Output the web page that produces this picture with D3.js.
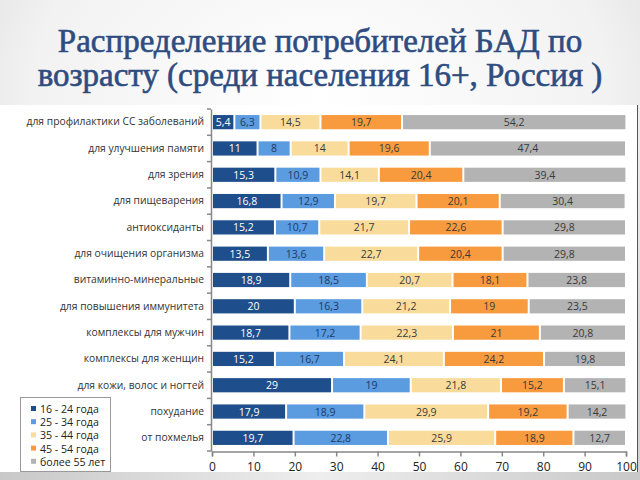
<!DOCTYPE html>
<html>
<head>
<meta charset="utf-8">
<script src="https://cdn.jsdelivr.net/npm/d3@7"></script>
<style>
  body { margin: 0; padding: 0; background: #fff; }
  svg { display: block; }
</style>
</head>
<body>
<script>
// categories, top to bottom
var categories = [
  "для профилактики СС заболеваний",
  "для улучшения памяти",
  "для зрения",
  "для пищеварения",
  "антиоксиданты",
  "для очищения организма",
  "витаминно-минеральные",
  "для повышения иммунитета",
  "комплексы для мужчин",
  "комплексы для женщин",
  "для кожи, волос и ногтей",
  "похудание",
  "от похмелья"
];

var seriesNames = ["16 - 24 года", "25 - 34 года", "35 - 44 года", "45 - 54 года", "более 55 лет"];

var age16_24 = [5.4, 11, 15.3, 16.8, 15.2, 13.5, 18.9, 20, 18.7, 15.2, 29, 17.9, 19.7];
var age25_34 = [6.3, 8, 10.9, 12.9, 10.7, 13.6, 18.5, 16.3, 17.2, 16.7, 19, 18.9, 22.8];
var age35_44 = [14.5, 14, 14.1, 19.7, 21.7, 22.7, 20.7, 21.2, 22.3, 24.1, 21.8, 29.9, 25.9];
var age45_54 = [19.7, 19.6, 20.4, 20.1, 22.6, 20.4, 18.1, 19, 21, 24.2, 15.2, 19.2, 18.9];
var age55up  = [54.2, 47.4, 39.4, 30.4, 29.8, 29.8, 23.8, 23.5, 20.8, 19.8, 15.1, 14.2, 12.7];

var xTicks = [0, 10, 20, 30, 40, 50, 60, 70, 80, 90, 100];

var colors = ["#1f4e8c", "#5b9be0", "#f9dc9c", "#f89b3e", "#b3b3b3"];
var textColors = ["#ffffff", "#1f3a66", "#3a3a3a", "#3a3a3a", "#3a3a3a"];

var width = 640, height = 480;
var svg = d3.select("body").append("svg").attr("width", width).attr("height", height);

// background: gray gradient frame, white panel
var defs = svg.append("defs");
var g1 = defs.append("radialGradient").attr("id", "bg").attr("cx", "50%").attr("cy", "20%").attr("r", "75%");
g1.append("stop").attr("offset", "0%").attr("stop-color", "#ffffff");
g1.append("stop").attr("offset", "60%").attr("stop-color", "#f2f2f2");
g1.append("stop").attr("offset", "100%").attr("stop-color", "#d4d4d4");
svg.append("rect").attr("width", width).attr("height", height).attr("fill", "url(#bg)");

var g2 = defs.append("linearGradient").attr("id", "bot").attr("x1", "0").attr("x2", "1");
g2.append("stop").attr("offset", "0%").attr("stop-color", "#c8c8c8");
g2.append("stop").attr("offset", "50%").attr("stop-color", "#eeeeee");
g2.append("stop").attr("offset", "100%").attr("stop-color", "#c8c8c8");
svg.append("rect").attr("x", 0).attr("y", 472).attr("width", width).attr("height", 8).attr("fill", "url(#bot)");

svg.append("rect").attr("x", 0).attr("y", 105).attr("width", 637).attr("height", 367).attr("fill", "#ffffff");
svg.append("line").attr("x1", 637.5).attr("x2", 637.5).attr("y1", 105).attr("y2", 472)
  .attr("stroke", "#555").attr("stroke-width", 1);

// title
var title = svg.append("text").attr("text-anchor", "middle")
  .style("font-family", "'Liberation Serif', 'DejaVu Serif', serif")
  .style("font-size", "33px").attr("fill", "#2e4c80")
  .attr("stroke", "#2e4c80").attr("stroke-width", 0.6);
title.append("tspan").attr("x", 320).attr("y", 52).text("Распределение потребителей БАД по");
title.append("tspan").attr("x", 320).attr("y", 86).text("возрасту (среди населения 16+, Россия )");

// chart
var margin = {left: 212, right: 14, top: 109, bottom: 29};
var x = d3.scaleLinear().domain([0, 100]).range([margin.left, width - margin.right]);
var y = d3.scaleBand().domain(categories).range([margin.top, height - margin.bottom]).paddingInner(0.46).paddingOuter(0.23);

var table = categories.map(function(c, i) {
  return {cat: c, v: [age16_24[i], age25_34[i], age35_44[i], age45_54[i], age55up[i]]};
});

var stack = d3.stack().keys(d3.range(5)).value(function(d, k) { return d.v[k]; });
var layers = stack(table);

var gBars = svg.append("g");
layers.forEach(function(layer, k) {
  var lg = gBars.append("g");
  lg.selectAll("rect").data(layer).enter().append("rect")
    .attr("x", function(d) { return x(d[0]) + 1; })
    .attr("y", function(d) { return y(d.data.cat); })
    .attr("width", function(d) { return Math.max(0, x(d[1]) - x(d[0]) - 2); })
    .attr("height", y.bandwidth())
    .attr("fill", colors[k]);
  lg.selectAll("text").data(layer).enter().append("text")
    .attr("x", function(d) { return (x(d[0]) + x(d[1])) / 2; })
    .attr("y", function(d) { return y(d.data.cat) + y.bandwidth() / 2 + 4; })
    .attr("text-anchor", "middle")
    .style("font-family", "'Open Sans', 'DejaVu Sans', sans-serif")
    .style("font-size", "10.5px")
    .attr("fill", textColors[k])
    .text(function(d) { return String(d.data.v[k]).replace(".", ","); });
});

// x axis
var xAxis = svg.append("g").attr("transform", "translate(0," + (height - margin.bottom + 0.5) + ")")
  .call(d3.axisBottom(x).tickValues(xTicks).tickSize(5).tickFormat(d3.format("d")));
xAxis.select(".domain").attr("stroke", "#888").attr("stroke-width", 1.5);
xAxis.selectAll(".tick line").attr("stroke", "#888").attr("stroke-width", 1.5);
xAxis.selectAll(".tick text").attr("y", 11)
  .style("font-family", "'Open Sans', 'DejaVu Sans', sans-serif").style("font-size", "12px").attr("fill", "#222");

// y axis
var yAxis = svg.append("g").attr("transform", "translate(" + (margin.left - 1) + ",0)")
  .call(d3.axisLeft(y).tickSize(0).tickPadding(7));
yAxis.select(".domain").attr("stroke", "#888").attr("stroke-width", 1.5);
yAxis.selectAll(".tick text")
  .style("font-family", "'Open Sans', 'DejaVu Sans', sans-serif").style("font-size", "10.3px").attr("fill", "#333");
// category boundary ticks
var step = y.step();
yAxis.selectAll(".bound").data(d3.range(categories.length + 1)).enter().append("line")
  .attr("x1", -4).attr("x2", 0)
  .attr("y1", function(i) { return margin.top + i * step; })
  .attr("y2", function(i) { return margin.top + i * step; })
  .attr("stroke", "#888").attr("stroke-width", 1.5);

// legend
var legend = svg.append("g").attr("transform", "translate(20,397)");
legend.append("rect").attr("x", 0.5).attr("y", 0.5).attr("width", 90).attr("height", 74)
  .attr("fill", "#fff").attr("stroke", "#999");
var li = legend.selectAll(".li").data(seriesNames).enter().append("g")
  .attr("transform", function(d, i) { return "translate(14," + (12 + i * 13.2) + ")"; });
li.append("rect").attr("x", -3).attr("y", -3).attr("width", 5).attr("height", 5)
  .attr("fill", function(d, i) { return colors[i]; });
li.append("text").attr("x", 6).attr("y", 4)
  .style("font-family", "'Open Sans', 'DejaVu Sans', sans-serif").style("font-size", "10.6px").attr("fill", "#222")
  .text(function(d) { return d; });
</script>
</body>
</html>
